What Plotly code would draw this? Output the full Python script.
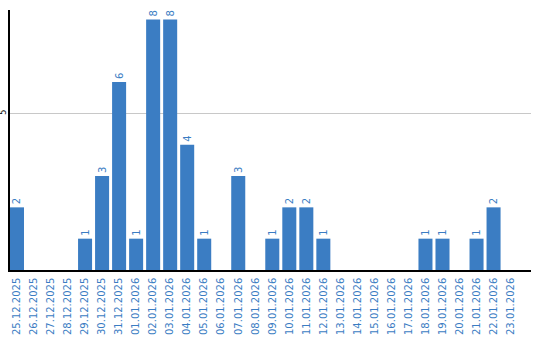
import plotly.graph_objects as go

dates = ["25.12.2025", "26.12.2025", "27.12.2025", "28.12.2025", "29.12.2025",
         "30.12.2025", "31.12.2025", "01.01.2026", "02.01.2026", "03.01.2026",
         "04.01.2026", "05.01.2026", "06.01.2026", "07.01.2026", "08.01.2026",
         "09.01.2026", "10.01.2026", "11.01.2026", "12.01.2026", "13.01.2026",
         "14.01.2026", "15.01.2026", "16.01.2026", "17.01.2026", "18.01.2026",
         "19.01.2026", "20.01.2026", "21.01.2026", "22.01.2026", "23.01.2026"]
counts = [2, 0, 0, 0, 1, 3, 6, 1, 8, 8, 4, 1, 0, 3, 0, 1, 2, 2, 1, 0,
          0, 0, 0, 0, 1, 1, 0, 1, 2, 0]

blue = "#3b7dc3"
labels = [str(v) if v else "" for v in counts]

fig = go.Figure(go.Bar(
    x=list(range(len(dates))), y=counts, text=labels,
    textposition="outside", textangle=-90, cliponaxis=False,
    textfont=dict(family="DejaVu Sans", size=10, color=blue),
    marker=dict(color=blue, line=dict(width=0)),
    hoverinfo="skip",
))

fig.update_layout(
    width=540, height=340,
    margin=dict(l=10, r=9, t=10, b=70),
    plot_bgcolor="white", paper_bgcolor="white",
    bargap=0.176, showlegend=False,
    font=dict(family="DejaVu Sans"),
)
fig.update_xaxes(
    tickmode="array", tickvals=list(range(len(dates))), ticktext=dates,
    tickangle=-90, tickfont=dict(family="DejaVu Sans", size=10, color=blue),
    range=[-0.41, 30.2], showgrid=False, showline=True, linecolor="black",
    linewidth=1.5, ticks="", zeroline=False, automargin=False,
    ticklabelstandoff=2,
)
fig.update_yaxes(
    range=[0, 8.3], tickvals=[5], ticktext=["5"], tickangle=-90,
    tickfont=dict(family="DejaVu Sans", size=8, color="black"),
    showgrid=True, gridcolor="#c8c8c8", gridwidth=1,
    showline=True, linecolor="black", linewidth=1.5, zeroline=False,
    ticks="", ticklabelstandoff=-1, automargin=False,
)

fig.write_html("out.html")
